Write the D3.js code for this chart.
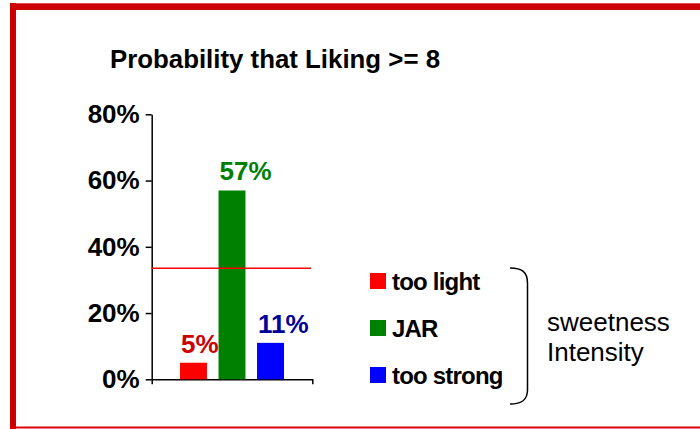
<!DOCTYPE html>
<html>
<head>
<meta charset="utf-8">
<script src="https://cdn.jsdelivr.net/npm/d3@7"></script>
<style>
  html, body { margin: 0; padding: 0; background: #ffffff; }
  svg { display: block; font-family: "Liberation Sans", Arial, sans-serif; }
</style>
</head>
<body>
<svg id="chart" width="700" height="429"></svg>
<script>
// Sweetness intensity groups and the probability that liking >= 8
const categories = ["too light", "JAR", "too strong"];
const values = [0.05, 0.57, 0.11];
const valueLabels = ["5%", "57%", "11%"];
const barColors = ["#ff0000", "#008000", "#0000ff"];
const labelColors = ["#cc0000", "#008000", "#000099"];
const yTicks = [0, 0.2, 0.4, 0.6, 0.8];
const threshold = 0.335;
const title = "Probability that Liking >= 8";
const groupLabel = ["sweetness", "Intensity"];

const svg = d3.select("#chart");

// frame
svg.append("rect").attr("x", 10).attr("y", 3).attr("width", 6).attr("height", 426).attr("fill", "#cc0000");
svg.append("rect").attr("x", 10).attr("y", 3.3).attr("width", 690).attr("height", 6.7).attr("fill", "#cc0000");
svg.append("rect").attr("x", 10).attr("y", 426.5).attr("width", 690).attr("height", 2).attr("fill", "#e00000");

// title
svg.append("text")
  .attr("x", 110).attr("y", 68)
  .attr("font-size", 25).attr("font-weight", "bold").attr("fill", "#000")
  .attr("textLength", 330).attr("lengthAdjust", "spacingAndGlyphs")
  .text(title);

const y = d3.scaleLinear().domain([0, 0.8]).range([379.3, 114.3]);
const x = d3.scaleBand().domain(categories).range([151.7, 312.3])
  .paddingInner(0.3).paddingOuter(0.735);

// y axis
const yAxis = svg.append("g")
  .attr("transform", "translate(151.7,0)")
  .call(d3.axisLeft(y).tickValues(yTicks).tickFormat(d3.format(".0%"))
    .tickSizeInner(6).tickSizeOuter(0).tickPadding(6));
yAxis.select(".domain").attr("stroke", "#000").attr("stroke-width", 1.5);
yAxis.selectAll(".tick line").attr("stroke", "#000").attr("stroke-width", 1.5);
yAxis.selectAll(".tick text")
  .attr("font-family", "Liberation Sans, Arial, sans-serif")
  .attr("font-size", 26).attr("font-weight", "bold").attr("fill", "#000");

// x axis: baseline with end ticks only
const xAxis = svg.append("g")
  .attr("transform", "translate(0,379.3)")
  .call(d3.axisBottom(x).tickSizeInner(0).tickSizeOuter(5).tickFormat(""));
xAxis.select(".domain").attr("stroke", "#000").attr("stroke-width", 1.5);
xAxis.selectAll(".tick").remove();

// bars
svg.append("g").selectAll("rect")
  .data(values)
  .join("rect")
  .attr("x", (d, i) => x(categories[i]))
  .attr("y", d => y(d))
  .attr("width", x.bandwidth())
  .attr("height", d => y(0) - y(d))
  .attr("fill", (d, i) => barColors[i]);

// value labels
svg.append("g").selectAll("text")
  .data(values)
  .join("text")
  .attr("x", (d, i) => x(categories[i]) + 1)
  .attr("y", d => y(d) - 10)
  .attr("font-size", 26).attr("font-weight", "bold")
  .attr("fill", (d, i) => labelColors[i])
  .text((d, i) => valueLabels[i]);

// reference line
svg.append("line")
  .attr("x1", 151.7).attr("x2", 311)
  .attr("y1", y(threshold)).attr("y2", y(threshold))
  .attr("stroke", "#ff0000").attr("stroke-width", 1.5);

// legend
const legend = svg.append("g").selectAll("g")
  .data(categories)
  .join("g")
  .attr("transform", (d, i) => `translate(370,${289.5 + i * 47})`);
legend.append("rect")
  .attr("x", 0).attr("y", -16.5).attr("width", 16).attr("height", 16)
  .attr("fill", (d, i) => barColors[i]);
legend.append("text")
  .attr("x", 22).attr("y", 0)
  .attr("font-size", 24).attr("font-weight", "bold").attr("fill", "#000")
  .attr("letter-spacing", -0.8)
  .text(d => d);

// brace grouping the legend
svg.append("path")
  .attr("d", "M510,268 C522,268 527.5,272 527.5,283 L527.5,390 C527.5,400 522,404 510,404")
  .attr("fill", "none").attr("stroke", "#000").attr("stroke-width", 1.5);

svg.append("g").selectAll("text")
  .data(groupLabel)
  .join("text")
  .attr("x", 547).attr("y", (d, i) => 331 + i * 30)
  .attr("font-size", 26).attr("fill", "#000")
  .text(d => d);
</script>
</body>
</html>
